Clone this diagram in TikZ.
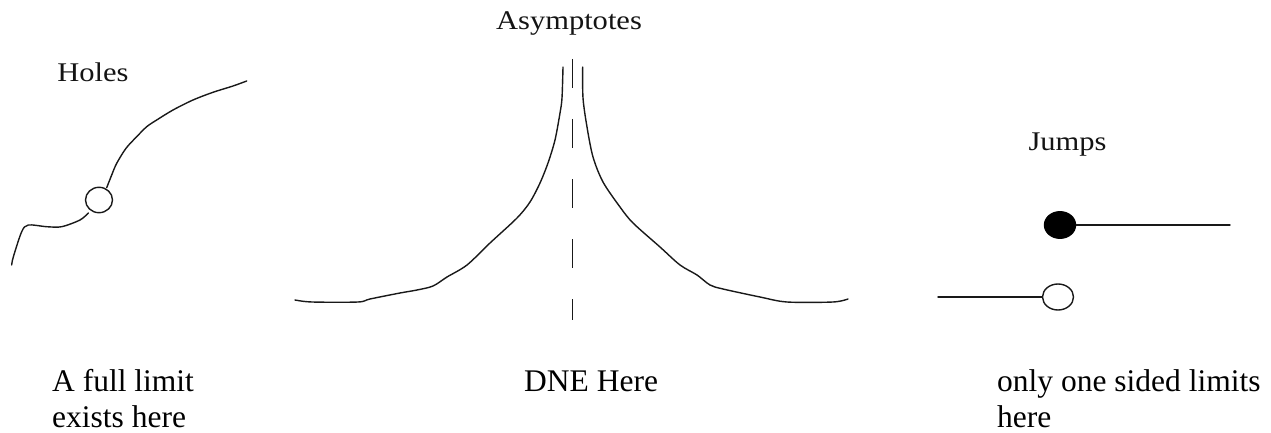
\documentclass[tikz,border=0pt]{standalone}
\usepackage{fontspec}
\setmainfont{Liberation Serif}
\usetikzlibrary{shapes.geometric}
\begin{document}
\begin{tikzpicture}[x=1pt,y=-1pt,
  curve/.style={line width=1.4pt, draw=black!90, line join=round, line cap=round},
  body/.style={anchor=base west, inner sep=0pt, font=\fontsize{31.5}{36}\selectfont},
  title/.style={anchor=base, inner sep=0pt, font=\fontsize{27}{30}\selectfont, text=black!92},
  dot/.style={ellipse, line width=1.4pt, minimum width=30pt, minimum height=26pt, inner sep=0pt},
]
\useasboundingbox (0,0) rectangle (1271,433);

% ---------- Holes ----------
\node[title] (tholes) at (93,81.7) {\scalebox{1.13}[1]{Holes}};
\node[dot, draw=black!90, minimum width=27pt, minimum height=25.4pt] (hole) at (99,200) {};
\coordinate (hstart) at (11.7,265);
\coordinate (hend) at (246.7,81);
\draw[curve] plot[smooth, tension=0.5] coordinates {
 (hstart) (13.3,257) (21.7,231.7) (28.3,225) (46.7,226.7) (61.7,226.7)
 (80,220) (88.3,213)};
\draw[curve] plot[smooth, tension=0.5] coordinates {
 (106.7,187.7) (111.7,175) (116.7,163.3) (126,148.3) (136.7,136.7) (146.7,126.7)
 (156.7,120) (173,110) (193,100) (213,92.3) (233,86) (hend)};
\node[body] (full1) at (52,391) {A full limit};
\node[body] (full2) at (52,427) {exists here};

% ---------- Asymptotes ----------
\node[title] (tasym) at (569,30) {\scalebox{1.13}[1]{Asymptotes}};
\coordinate (vtop) at (572.7,59);
\coordinate (vbot) at (572.7,320);
\draw[curve, line cap=butt, dash pattern=on 29pt off 31pt] (vtop) -- (vbot);
\draw[curve] plot[smooth, tension=0.5] coordinates {
 (295,300) (312,302) (358,302) (370,299) (400,293) (417,290) (433,286) (447,277)
 (467,265) (490,243) (517,218) (530,202) (540,183) (548,163) (555,140) (560,113)
 (562,98) (563,67)};
\draw[curve] plot[smooth, tension=0.5] coordinates {
 (582.7,67) (583,98) (587,127) (593,157) (603,182) (620,207) (633,223) (660,247)
 (680,265) (697,275) (710,285) (723,289) (760,297) (787,302) (833,302) (848,299)};
\node[body] (dne) at (524,391) {DNE Here};

% ---------- Jumps ----------
\node[title] (tjumps) at (1067.5,150) {\scalebox{1.13}[1]{Jumps}};
\node[dot, draw=black, fill=black, minimum width=31pt, minimum height=26.5pt] (filled) at (1060,225) {};
\coordinate (rend) at (1230,225);
\draw[curve] (filled.east) -- (rend);
\node[dot, draw=black!90, minimum width=31pt] (open) at (1058,297) {};
\coordinate (lend) at (938,297);
\draw[curve] (lend) -- (open.west);
\node[body] (one1) at (997,391) {only one sided limits};
\node[body] (one2) at (997,427) {here};
\end{tikzpicture}
\end{document}
